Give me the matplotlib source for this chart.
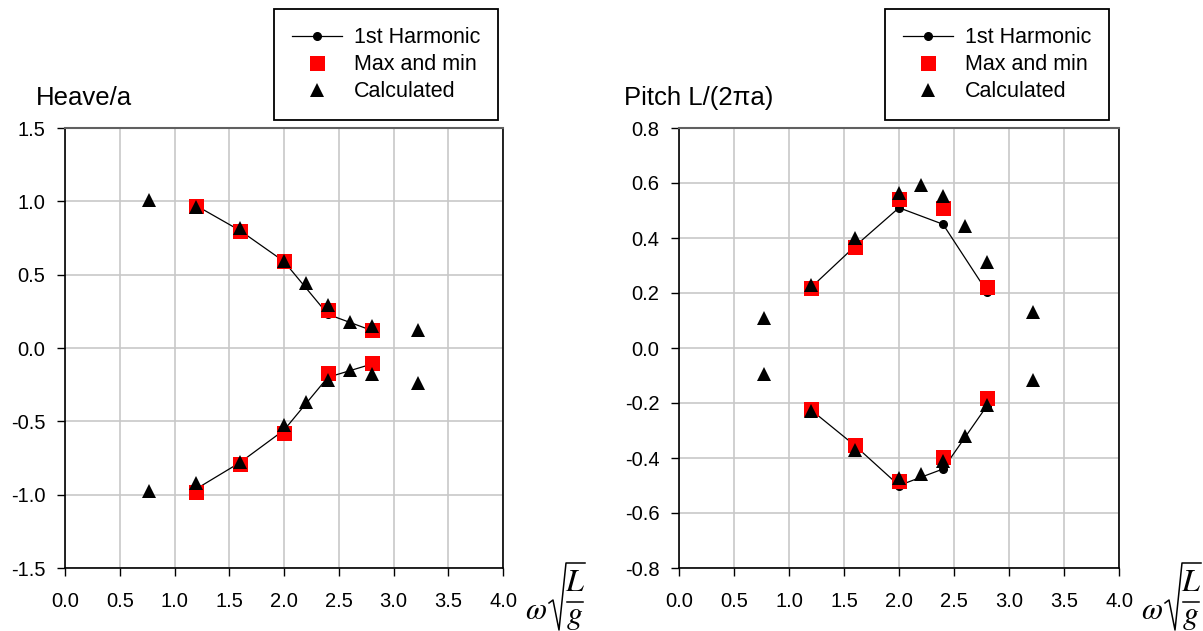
import matplotlib
matplotlib.use("Agg")
import matplotlib.pyplot as plt
from matplotlib.lines import Line2D

plt.rcParams["font.family"] = ["Liberation Sans", "DejaVu Sans"]
plt.rcParams["axes.unicode_minus"] = False
plt.rcParams["mathtext.fontset"] = "stix"

# frequencies
harm_x = [1.2, 1.6, 2.0, 2.4, 2.8]
calc_x = [0.77, 1.2, 1.6, 2.0, 2.2, 2.4, 2.6, 2.8, 3.22]

# heave / a
heave_harm_max = [0.97, 0.80, 0.59, 0.23, 0.12]
heave_harm_min = [-0.96, -0.78, -0.56, -0.20, -0.11]
heave_mm_max = [0.97, 0.80, 0.59, 0.26, 0.12]
heave_mm_min = [-0.98, -0.79, -0.58, -0.17, -0.10]
heave_calc_max = [1.01, 0.96, 0.82, 0.59, 0.44, 0.29, 0.18, 0.15, 0.12]
heave_calc_min = [-0.975, -0.92, -0.78, -0.525, -0.37, -0.215, -0.15, -0.18, -0.24]

# pitch L/(2 pi a)
pitch_harm_max = [0.22, 0.37, 0.51, 0.45, 0.205]
pitch_harm_min = [-0.225, -0.355, -0.50, -0.44, -0.21]
pitch_mm_max = [0.22, 0.366, 0.543, 0.51, 0.222]
pitch_mm_min = [-0.222, -0.351, -0.482, -0.396, -0.182]
pitch_calc_max = [0.109, 0.23, 0.40, 0.564, 0.594, 0.552, 0.443, 0.313, 0.131]
pitch_calc_min = [-0.095, -0.23, -0.37, -0.473, -0.458, -0.412, -0.321, -0.206, -0.115]

labels = ["1st Harmonic", "Max and min", "Calculated"]
xticks = [0.0, 0.5, 1.0, 1.5, 2.0, 2.5, 3.0, 3.5, 4.0]

W, H = 1203, 631
fig = plt.figure(figsize=(W / 100, H / 100), dpi=100)
ax1 = fig.add_axes([65 / W, 1 - 568 / H, 438 / W, 440 / H])
ax2 = fig.add_axes([679 / W, 1 - 568 / H, 440 / W, 440 / H])


def fx(px):
    return px / W


def fy(py):
    return 1 - py / H


def omega_label(x0):
    # omega * sqrt(L/g), built piece by piece so the radical stays narrow
    fig.text(fx(x0 + 9), fy(611), r"$\omega$", fontsize=22,
             ha="center", va="center")
    rad_x = [x0 + 22, x0 + 26, x0 + 32, x0 + 39, x0 + 58]
    rad_y = [603, 600, 630, 563, 563]
    fig.add_artist(Line2D([fx(v) for v in rad_x], [fy(v) for v in rad_y],
                          transform=fig.transFigure, color="black", lw=1.1))
    fig.add_artist(Line2D([fx(x0 + 40), fx(x0 + 56)], [fy(602), fy(602)],
                          transform=fig.transFigure, color="black", lw=1.1))
    fig.text(fx(x0 + 48), fy(583), r"$L$", fontsize=23,
             ha="center", va="center")
    fig.text(fx(x0 + 48), fy(617), r"$g$", fontsize=23,
             ha="center", va="center")


def draw_panel(ax, harm_max, harm_min, mm_max, mm_min, calc_max, calc_min,
               ylim, yticks, title, title_x, legend_right):
    h1, = ax.plot(harm_x, harm_max, "-o", color="black", lw=0.9, ms=5.5, zorder=3)
    ax.plot(harm_x, harm_min, "-o", color="black", lw=0.9, ms=5.5, zorder=3)
    h2, = ax.plot(harm_x, mm_max, "s", color="#ff0000", ms=10.8, mew=0, zorder=4)
    ax.plot(harm_x, mm_min, "s", color="#ff0000", ms=10.8, mew=0, zorder=4)
    h3, = ax.plot(calc_x, calc_max, "^", color="black", ms=10.5, mew=0, zorder=5)
    ax.plot(calc_x, calc_min, "^", color="black", ms=10.5, mew=0, zorder=5)

    ax.set_xlim(0, 4.0)
    ax.set_ylim(*ylim)
    ax.set_xticks(xticks)
    ax.set_yticks(yticks)
    ax.set_xticklabels([f"{v:.1f}" for v in xticks])
    ax.set_yticklabels([f"{v:.1f}" for v in yticks])
    ax.grid(True, color="#c8c8c8", lw=1.2, zorder=0)
    ax.set_axisbelow(True)
    ax.tick_params(labelsize=14.5, direction="out", length=6, width=1,
                   color="black")
    ax.tick_params(axis="y", pad=8)
    ax.tick_params(axis="x", pad=11)
    for side in ("left", "bottom", "right"):
        ax.spines[side].set_color("black")
        ax.spines[side].set_linewidth(1.2)
    ax.spines["top"].set_color("#606060")
    ax.spines["top"].set_linewidth(1.5)

    fig.text(fx(title_x), fy(98), title, fontsize=18.5, ha="left", va="center")
    omega_label(ax.get_position().x1 * W + 24)

    leg = ax.legend([h1, h2, h3], labels, loc="upper right",
                    bbox_to_anchor=(fx(legend_right), fy(9)),
                    bbox_transform=fig.transFigure, fontsize=15.5,
                    fancybox=False, framealpha=1, edgecolor="black",
                    borderpad=0.84, labelspacing=0.28, handlelength=2.3,
                    handletextpad=0.55, numpoints=1, borderaxespad=0)
    leg.get_frame().set_linewidth(1.3)


draw_panel(ax1, heave_harm_max, heave_harm_min, heave_mm_max, heave_mm_min,
           heave_calc_max, heave_calc_min, (-1.5, 1.5),
           [-1.5, -1.0, -0.5, 0.0, 0.5, 1.0, 1.5], "Heave/a", 36, 498)
draw_panel(ax2, pitch_harm_max, pitch_harm_min, pitch_mm_max, pitch_mm_min,
           pitch_calc_max, pitch_calc_min, (-0.8, 0.8),
           [-0.8, -0.6, -0.4, -0.2, 0.0, 0.2, 0.4, 0.6, 0.8],
           "Pitch L/(2\u03c0a)", 624, 1109)

fig.savefig("out.png", dpi=100)
